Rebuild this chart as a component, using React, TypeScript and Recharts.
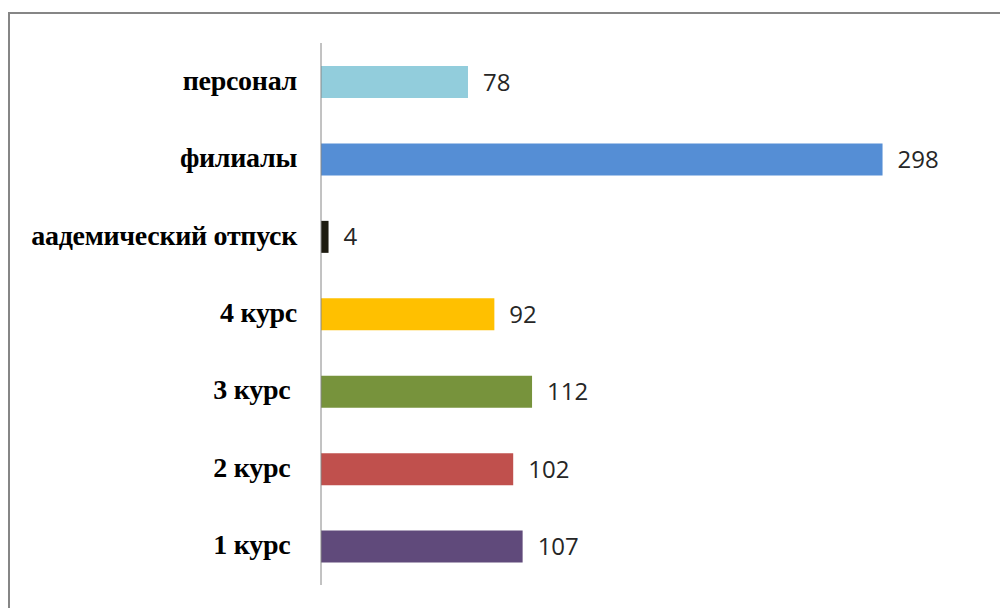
import { BarChart, Bar, XAxis, YAxis, Cell, LabelList } from 'recharts';

const categories = ['персонал', 'филиалы', 'аадемический отпуск', '4 курс', '3 курс ', '2 курс ', '1 курс '];
const counts = [78, 298, 4, 92, 112, 102, 107];
const barColors = ['#92cddc', '#558ed5', '#1d1b10', '#ffc000', '#77933c', '#c0504d', '#604a7b'];

const chartData = categories.map((name, i) => ({ name, value: counts[i] }));

function CategoryTick({ x, y, payload }: any) {
  return (
    <text
      x={x}
      y={y}
      dy={8}
      textAnchor="end"
      style={{ whiteSpace: 'pre' }}
      fontFamily="'Liberation Serif', 'Times New Roman', serif"
      fontWeight="bold"
      fontSize={28}
      letterSpacing={-0.3}
      fill="#000"
    >
      {payload.value}
    </text>
  );
}

export default function App() {
  return (
    <div style={{ position: 'absolute', left: 0, top: 0, width: 1000, height: 608, overflow: 'hidden', background: '#fff' }}>
      <div
        style={{
          position: 'absolute',
          left: 8,
          top: 12,
          width: 1010,
          height: 620,
          border: '2px solid #868686',
        }}
      />
      <div style={{ position: 'absolute', left: 0, top: 0 }}>
        <BarChart
          width={1000}
          height={608}
          data={chartData}
          layout="vertical"
          margin={{ top: 43, right: 76, bottom: 23, left: 0 }}
        >
          <XAxis type="number" domain={[0, 320]} hide />
          <YAxis
            type="category"
            dataKey="name"
            width={321}
            axisLine={{ stroke: '#868686', strokeWidth: 1 }}
            tickLine={false}
            tickMargin={18}
            tick={<CategoryTick />}
            interval={0}
          />
          <Bar dataKey="value" barSize={32} isAnimationActive={false}>
            {chartData.map((d, i) => (
              <Cell key={d.name} fill={barColors[i]} />
            ))}
            <LabelList
              dataKey="value"
              position="right"
              offset={15}
              fill="#262626"
              fontSize={24}
              fontFamily="'Open Sans', sans-serif"
            />
          </Bar>
        </BarChart>
      </div>
    </div>
  );
}
